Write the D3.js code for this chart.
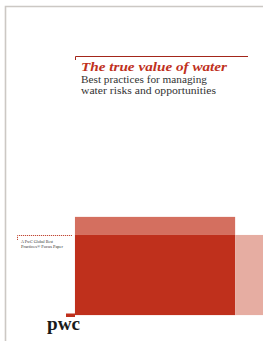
<!DOCTYPE html>
<html>
<head>
<meta charset="utf-8">
<script src="https://cdn.jsdelivr.net/npm/d3@7"></script>
<style>
  html, body { margin: 0; padding: 0; background: #fff; }
  svg { display: block; }
</style>
</head>
<body>
<svg width="263" height="341"></svg>
<script>
// texts on the cover
var titleText = 'The true value of water'
var subtitleLines = ['Best practices for managing', 'water risks and opportunities']
var taglineLines = ['A PwC Global Best', 'Practices\u00AE Focus Paper']
var logoText = 'pwc'

// colour blocks, in page units (x and y from 0 to 100)
var blockNames = ['top', 'main', 'side']
var blockX0 = [28.5, 28.5, 89.4]
var blockX1 = [89.4, 89.4, 100]
var blockY0 = [63.6, 68.9, 68.9]
var blockY1 = [68.9, 92.4, 92.4]
var blockColors = ['#d46f5f', '#bf301c', '#e6ada2']

var W = 263, H = 341
var svg = d3.select('svg')

var mapX = d3.scaleLinear().domain([0, 100]).range([0, W])
var mapY = d3.scaleLinear().domain([0, 100]).range([0, H])

// page frame
svg.append('path')
    .attr('d', 'M5.5,' + H + 'V6.5H' + W)
    .attr('fill', 'none')
    .attr('stroke', '#ccc8c4')
    .attr('stroke-width', 1.6)

// title rule
svg.append('path')
    .attr('d', 'M75.5,60V56.5H248')
    .attr('fill', 'none')
    .attr('stroke', '#a3261a')
    .attr('stroke-width', 1)

svg.append('text')
    .attr('x', 81).attr('y', 71)
    .attr('textLength', 146)
    .attr('lengthAdjust', 'spacingAndGlyphs')
    .style('font-family', 'Liberation Serif, DejaVu Serif, serif')
    .style('font-style', 'italic')
    .style('font-weight', 'bold')
    .style('font-size', '13.5px')
    .attr('fill', '#c0311d')
    .text(titleText)

var subWidths = [126, 135]
svg.selectAll('text.sub')
    .data(subtitleLines)
    .enter()
    .append('text')
    .attr('class', 'sub')
    .attr('x', 81)
    .attr('y', function(d, i) { return 83 + i * 10.5 })
    .attr('textLength', function(d, i) { return subWidths[i] })
    .attr('lengthAdjust', 'spacingAndGlyphs')
    .style('font-family', 'Liberation Serif, DejaVu Serif, serif')
    .style('font-size', '11px')
    .attr('fill', '#333')
    .text(function(d) { return d })

// colour blocks
svg.selectAll('rect.block')
    .data(blockNames)
    .enter()
    .append('rect')
    .attr('class', 'block')
    .attr('x', function(d, i) { return mapX(blockX0[i]) })
    .attr('y', function(d, i) { return mapY(blockY0[i]) })
    .attr('width', function(d, i) { return mapX(blockX1[i]) - mapX(blockX0[i]) })
    .attr('height', function(d, i) { return mapY(blockY1[i]) - mapY(blockY0[i]) })
    .attr('fill', function(d, i) { return blockColors[i] })

// tagline with dotted rule
svg.append('path')
    .attr('d', 'M17.5,240V235.5H72')
    .attr('fill', 'none')
    .attr('stroke', '#c24a36')
    .attr('stroke-width', 1)
    .attr('stroke-dasharray', '1.2,0.8')

svg.selectAll('text.tag')
    .data(taglineLines)
    .enter()
    .append('text')
    .attr('class', 'tag')
    .attr('x', 21)
    .attr('y', function(d, i) { return 243 + i * 5 })
    .attr('textLength', function(d, i) { return i == 0 ? 32 : 42 })
    .attr('lengthAdjust', 'spacingAndGlyphs')
    .style('font-family', 'Liberation Serif, serif')
    .style('font-size', '5px')
    .attr('fill', '#333')
    .text(function(d) { return d })

// logo
svg.append('rect')
    .attr('x', 66).attr('y', 313.5)
    .attr('width', 9).attr('height', 3.5)
    .attr('fill', '#bf301c')

svg.append('text')
    .attr('x', 47).attr('y', 330)
    .attr('textLength', 33)
    .attr('lengthAdjust', 'spacingAndGlyphs')
    .style('font-family', 'Liberation Serif, DejaVu Serif, serif')
    .style('font-weight', 'bold')
    .style('font-size', '18px')
    .attr('fill', '#1a1a1a')
    .text(logoText)
</script>
</body>
</html>
